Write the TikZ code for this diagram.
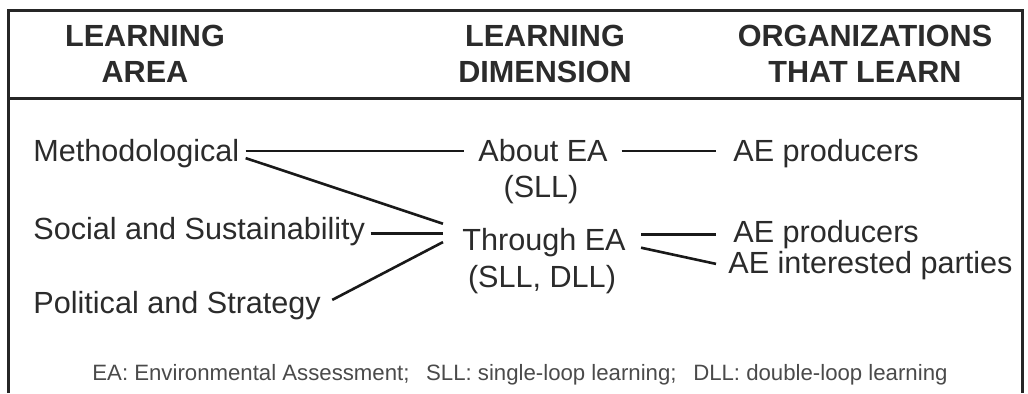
\documentclass[tikz,border=0pt]{standalone}
\usepackage{fontspec}
\setmainfont{Liberation Sans}
\usetikzlibrary{positioning}
\definecolor{ink}{HTML}{2B2B2B}
\definecolor{noteink}{HTML}{4A4A4A}
\begin{document}
\begin{tikzpicture}[x=0.5pt,y=-0.5pt,
    hdr/.style={align=center,inner sep=0pt,text=ink,font=\fontsize{15.3}{18}\selectfont\bfseries},
    item/.style={inner sep=0pt,text=ink,font=\fontsize{15.3}{18}\selectfont},
    note/.style={inner sep=0pt,text=noteink,font=\fontsize{11.1}{13}\selectfont},
    link/.style={line width=1.3pt,draw=black!90}]
                \useasboundingbox (0, 0) rectangle (1028, 393);

                 % frame, open at the bottom
                 \draw[line width=1.5pt, draw=black!85] (8, 393) -- (8, 10) -- (1022, 10) -- (1022, 393);
                 \draw[line width=1.5pt, draw=black!85] (8, 98) -- (1022, 98);

                 \node[hdr] (harea) at (145, 54) {LEARNING\\AREA};
                 \node[hdr] (hdim) at (545, 54) {LEARNING\\DIMENSION};
                 \node[hdr] (horg) at (865, 54) {ORGANIZATIONS\\THAT LEARN};

                 \node[item, anchor=base west] (meth) at (33, 161) {Methodological};
                 \node[item, anchor=base west] (social) at (33, 239) {Social and Sustainability};
                 \node[item, anchor=base west] (pol) at (33, 313) {Political and Strategy};

                 \node[item, anchor=base] (about) at (543, 161) {About EA};
                    \node[item, anchor=base] (aboutsll) at (541, 197) {(SLL)};
                 \node[item, anchor=base] (through) at (544, 250) {Through EA};
                    \node[item, anchor=base] (throughsll) at (542, 287) {(SLL, DLL)};

                 \node[item, anchor=base west] (prodA) at (733, 161) {AE producers};
                 \node[item, anchor=base west] (prodB) at (733, 242) {AE producers};
                 \node[item, anchor=base west] (parties) at (728, 273) {AE interested parties};

                 % links between the columns (flat ones kept level with |- and -|)
                 \draw[link] ([xshift=3pt, yshift=1pt]meth.east) -- ([xshift=-7pt, yshift=1pt]meth.east -| about.west);
                 \draw[link] ([xshift=3pt, yshift=-2.5pt]meth.east) -- ([xshift=-9.5pt, yshift=9.2pt]through.west);
                 \draw[link] ([xshift=2.5pt, yshift=-1.3pt]social.east) -- ([xshift=-9.5pt, yshift=-1.3pt]social.east -| through.west);
                 \draw[link] ([xshift=5.5pt, yshift=2.6pt]pol.east) -- ([xshift=-9.5pt]through.west);

                 \draw[link] ([xshift=6.8pt, yshift=1pt]meth.east -| about.east) -- ([xshift=-8.5pt, yshift=1pt]meth.east -| prodA.west);
                 \draw[link] ([xshift=7.5pt, yshift=3.7pt]through.east) -- ([xshift=-8.5pt, yshift=3.7pt]through.east -| prodB.west);
                 \draw[link] ([xshift=7.5pt, yshift=-2.8pt]through.east) -- ([xshift=-6pt, yshift=0.6pt]parties.west);

                 \node[note, anchor=base] (legend) at (520, 380) {EA: Environmental Assessment;\hspace{0.75em}SLL: single-loop learning;\hspace{0.75em}DLL: double-loop learning};

\end{tikzpicture}
\end{document}
